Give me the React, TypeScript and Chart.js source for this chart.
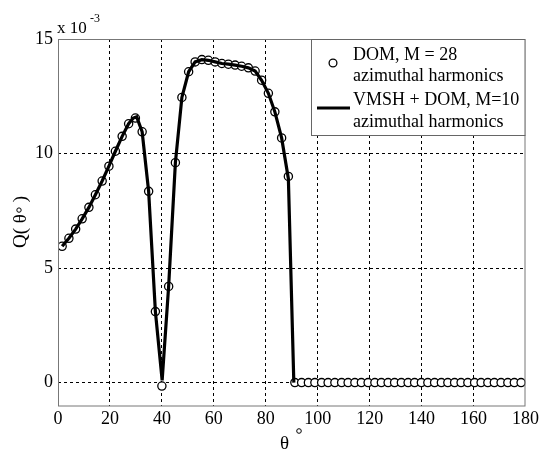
import React, { useEffect, useRef } from "react";
import { Chart, registerables } from "chart.js";

Chart.register(...registerables);

// DOM, M = 28 (markers)
const domTheta = [
  1.6, 4.2, 6.8, 9.3, 11.9, 14.4, 17.0, 19.6, 22.1, 24.7,
  27.2, 29.8, 32.4, 34.9, 37.5, 40.0, 42.6, 45.2, 47.7, 50.3,
  52.8, 55.4, 57.9, 60.5, 63.1, 65.6, 68.2, 70.7, 73.3, 75.9,
  78.4, 81.0, 83.5, 86.1, 88.7, 91.2, 93.8, 96.4, 98.9, 101.5,
  104.0, 106.6, 109.2, 111.7, 114.3, 116.8, 119.4, 122.0, 124.5, 127.1,
  129.6, 132.2, 134.8, 137.3, 139.9, 142.4, 145.0, 147.6, 150.1, 152.7,
  155.2, 157.8, 160.4, 162.9, 165.5, 168.0, 170.6, 173.2, 175.7, 178.3,
];
const domQ = [
  5.95, 6.3, 6.7, 7.15, 7.65, 8.2, 8.8, 9.45, 10.1, 10.75,
  11.3, 11.55, 10.95, 8.35, 3.1, -0.15, 4.2, 9.6, 12.45, 13.57,
  14.0, 14.1, 14.07, 14.0, 13.93, 13.9, 13.86, 13.81, 13.74, 13.6,
  13.2, 12.63, 11.82, 10.68, 9.0, 0, 0, 0, 0, 0,
  0, 0, 0, 0, 0, 0, 0, 0, 0, 0,
  0, 0, 0, 0, 0, 0, 0, 0, 0, 0,
  0, 0, 0, 0, 0, 0, 0, 0, 0, 0,
];

// VMSH + DOM, M = 10 (line)
const vmshTheta = [
  1.6, 4.2, 6.8, 9.3, 11.9, 14.4, 17.0, 19.6, 22.1, 24.7,
  27.2, 29.0, 30.3, 32.4, 34.9, 37.5, 40.1, 42.6, 45.2, 47.7,
  50.3, 52.8, 55.4, 57.9, 60.5, 63.1, 65.6, 68.2, 70.7, 73.3,
  75.9, 78.4, 81.0, 83.5, 86.1, 88.7, 90.8,
];
const vmshQ = [
  5.95, 6.3, 6.7, 7.15, 7.65, 8.2, 8.8, 9.45, 10.1, 10.75,
  11.3, 11.55, 11.6, 10.95, 8.35, 3.1, 0.1, 4.2, 9.6, 12.45,
  13.57, 14.0, 14.1, 14.07, 14.0, 13.93, 13.9, 13.86, 13.81, 13.74,
  13.6, 13.2, 12.63, 11.82, 10.68, 8.9, 0.0,
];

const yTicks = [0, 5, 10, 15];
const xTickStep = 20;
const legendLabels = [
  ["DOM, M = 28", "azimuthal harmonics"],
  ["VMSH + DOM, M=10", "azimuthal harmonics"],
];

const SERIF = "'Liberation Serif', 'Times New Roman', serif";

const decorPlugin = {
  id: "decor",
  afterDatasetsDraw(chart: any) {
    const { ctx, chartArea } = chart;
    const { left, top, right, bottom } = chartArea;
    ctx.save();
    // frame
    ctx.strokeStyle = "#777";
    ctx.lineWidth = 1;
    ctx.setLineDash([]);
    ctx.strokeRect(left + 0.5, top + 0.5, right - left - 1, bottom - top);

    // legend box
    const lx = 311, ly = top, lw = right - 311, lh = 96;
    ctx.fillStyle = "#fff";
    ctx.fillRect(lx, ly, lw, lh);
    ctx.strokeStyle = "#666";
    ctx.strokeRect(lx + 0.5, ly + 0.5, lw - 1, lh);
    ctx.fillStyle = "#000";
    ctx.font = `18px ${SERIF}`;
    ctx.textAlign = "left";
    ctx.textBaseline = "alphabetic";
    ctx.fillText(legendLabels[0][0], 353, 60);
    ctx.fillText(legendLabels[0][1], 353, 81);
    ctx.fillText(legendLabels[1][0], 353, 105);
    ctx.fillText(legendLabels[1][1], 353, 127);
    // legend marker
    ctx.beginPath();
    ctx.arc(333, 63, 3.9, 0, Math.PI * 2);
    ctx.strokeStyle = "#000";
    ctx.lineWidth = 1.3;
    ctx.stroke();
    // legend line
    ctx.beginPath();
    ctx.moveTo(317, 108);
    ctx.lineTo(350, 108);
    ctx.lineWidth = 3.2;
    ctx.stroke();

    // exponent
    ctx.font = `17px ${SERIF}`;
    ctx.fillText("x 10", 57, 33);
    ctx.font = `12px ${SERIF}`;
    ctx.fillText("-3", 90, 22);

    // y title
    ctx.save();
    ctx.translate(26, 222);
    ctx.rotate(-Math.PI / 2);
    ctx.font = `19px ${SERIF}`;
    ctx.textAlign = "left";
    const part1 = "Q( θ";
    const part2 = " )";
    const w1 = ctx.measureText(part1).width;
    const w2 = ctx.measureText(part2).width;
    const gap = 7;
    const total = w1 + gap + w2;
    const sx = -total / 2;
    ctx.fillText(part1, sx, 0);
    ctx.fillText(part2, sx + w1 + gap, 0);
    ctx.beginPath();
    ctx.arc(sx + w1 + gap / 2 + 0.5, -7, 2.2, 0, Math.PI * 2);
    ctx.lineWidth = 1;
    ctx.strokeStyle = "#000";
    ctx.stroke();
    ctx.restore();

    // x title
    ctx.font = `19px ${SERIF}`;
    ctx.textAlign = "left";
    ctx.fillText("θ", 280, 449);
    ctx.beginPath();
    ctx.arc(299, 431, 2.3, 0, Math.PI * 2);
    ctx.lineWidth = 1;
    ctx.stroke();
    ctx.restore();
  },
};

export default function App() {
  const ref = useRef<HTMLCanvasElement | null>(null);
  useEffect(() => {
    if (!ref.current) return;
    const chart = new Chart(ref.current, {
      type: "scatter",
      data: {
        datasets: [
          {
            label: "VMSH + DOM, M=10",
            data: vmshTheta.map((x, i) => ({ x, y: vmshQ[i] })),
            showLine: true,
            borderColor: "#000",
            borderWidth: 3.2,
            pointRadius: 0,
            tension: 0,
            order: 0,
          },
          {
            label: "DOM, M = 28",
            data: domTheta.map((x, i) => ({ x, y: domQ[i] })),
            showLine: false,
            pointRadius: 4.1,
            pointBorderWidth: 1.3,
            pointBackgroundColor: "#fff",
            pointBorderColor: "#000",
            order: 1,
          },
        ],
      },
      options: {
        animation: false,
        responsive: false,
        layout: { padding: { left: 0, top: 39, right: 14, bottom: 0 } },
        plugins: { legend: { display: false }, tooltip: { enabled: false } },
        scales: {
          x: {
            type: "linear",
            min: 0,
            max: 180,
            ticks: {
              stepSize: xTickStep,
              color: "#000",
              font: { family: SERIF, size: 18 },
              padding: 3,
              maxRotation: 0,
            },
            grid: {
              drawTicks: false,
              color: (c: any) =>
                c.tick && (c.tick.value === 0 || c.tick.value === 180) ? "rgba(0,0,0,0)" : "#000",
              lineWidth: 1,
            },
            border: { display: false, dash: [3, 3] },
            afterFit(scale: any) {
              scale.height = 44.5;
            },
          },
          y: {
            type: "linear",
            min: -1,
            max: 15,
            afterBuildTicks(scale: any) {
              scale.ticks = yTicks.map((v) => ({ value: v }));
            },
            ticks: {
              color: "#000",
              font: { family: SERIF, size: 18 },
              padding: 5,
            },
            grid: {
              drawTicks: false,
              color: (c: any) =>
                c.tick && c.tick.value === 15 ? "rgba(0,0,0,0)" : "#000",
              lineWidth: 1,
            },
            border: { display: false, dash: [3, 3] },
            afterFit(scale: any) {
              scale.width = 58;
            },
          },
        },
      },
      plugins: [decorPlugin],
    });
    return () => chart.destroy();
  }, []);
  return (
    <div style={{ position: "absolute", left: 0, top: 0, width: 542, height: 450, background: "#fff" }}>
      <canvas ref={ref} width={542} height={450} style={{ width: 542, height: 450 }} />
    </div>
  );
}
